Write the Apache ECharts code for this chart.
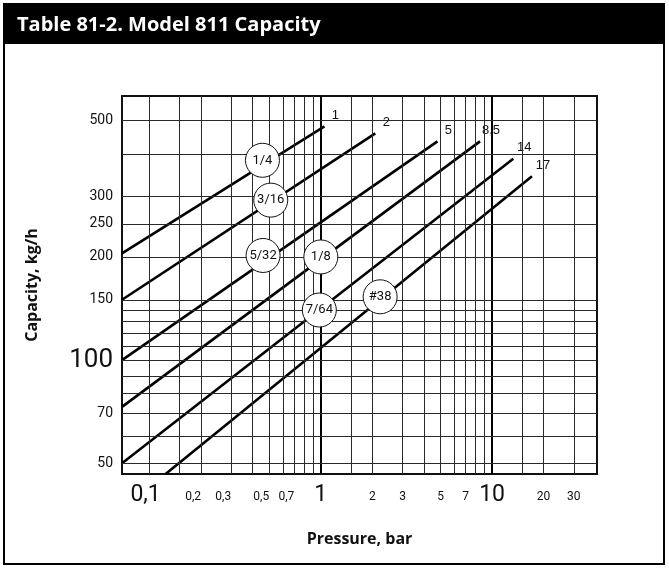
<!DOCTYPE html>
<html>
<head>
<meta charset="utf-8">
<title>Model 811 Capacity</title>
<script src="https://cdn.jsdelivr.net/npm/echarts@6/dist/echarts.min.js"></script>
<style>
  html, body { margin: 0; padding: 0; background: #fff; }
  #chart { width: 669px; height: 568px; }
</style>
</head>
<body>
<div id="chart"></div>
<script>
// grid lines of the log-log sheet
const pressureGrid = [0.1, 0.15, 0.2, 0.3, 0.4, 0.5, 0.6, 0.7, 0.8, 0.9, 1, 1.5, 2, 3, 4, 5, 6, 7, 8, 9, 10, 15, 20, 30];
const capacityGrid = [50, 60, 70, 80, 90, 100, 110, 120, 130, 140, 150, 200, 250, 300, 400, 500];

// tick labels
const pressureLabelValues = [0.1, 0.2, 0.3, 0.5, 0.7, 1, 2, 3, 5, 7, 10, 20, 30];
const pressureLabelText = ['0,1', '0,2', '0,3', '0,5', '0,7', '1', '2', '3', '5', '7', '10', '20', '30'];
const capacityLabelValues = [50, 70, 100, 150, 200, 250, 300, 500];
const capacityLabelText = ['50', '70', '100', '150', '200', '250', '300', '500'];
const bigLabels = ['0,1', '1', '10', '100'];

// orifice lines (pressure bar, capacity kg/h)
const orifices = ['1/4', '3/16', '5/32', '1/8', '7/64', '#38'];
const maxPressure = ['1', '2', '5', '8,5', '14', '17'];
const startPressure = [0.069, 0.069, 0.069, 0.069, 0.069, 0.124];
const startCapacity = [205, 150, 100, 73, 50, 46.5];
const endPressure = [1.05, 2.08, 4.8, 8.5, 13.3, 17.1];
const endCapacity = [481, 459, 435, 435, 387, 344];
const badgePressure = [0.456, 0.51, 0.46, 1.0, 0.98, 2.22];
const badgeCapacity = [383, 293, 202, 200, 140, 153];

const narrowFamily = 'Roboto, "Liberation Sans", sans-serif';
const boldFamily = '"Open Sans", sans-serif';

const chart = echarts.init(document.getElementById('chart'), null, { renderer: 'canvas' });

function gridLine(axis, value, labelText) {
  const heavy = (axis === 'xAxis' && (value === 1 || value === 10));
  const item = {
    lineStyle: { color: heavy ? '#000' : '#2a2a2a', width: heavy ? 2 : 1, type: 'solid' }
  };
  item[axis] = value;
  if (labelText) {
    const big = bigLabels.indexOf(labelText) >= 0;
    let dx = 0;
    if (axis === 'xAxis' && value < 1) dx = big ? -4 : -8;
    item.label = {
      show: true,
      position: 'start',
      formatter: labelText,
      fontFamily: narrowFamily,
      fontSize: big ? (axis === 'yAxis' ? 26 : 23) : (axis === 'yAxis' ? 14 : 12),
      color: '#111',
      offset: [dx, 0],
      distance: axis === 'yAxis' ? 9 : (big ? 10 : 17)
    };
  }
  return item;
}

const xGridData = pressureGrid.map(v => {
  const i = pressureLabelValues.indexOf(v);
  return gridLine('xAxis', v, i >= 0 ? pressureLabelText[i] : null);
});
const yGridData = capacityGrid.map(v => {
  const i = capacityLabelValues.indexOf(v);
  return gridLine('yAxis', v, i >= 0 ? capacityLabelText[i] : null);
});

const orificeSeries = orifices.map((name, i) => ({
  name: maxPressure[i],
  type: 'line',
  data: [[startPressure[i], startCapacity[i]], [endPressure[i], endCapacity[i]]],
  symbol: 'none',
  z: 3,
  lineStyle: { color: '#000', width: 2.6 },
  endLabel: {
    show: true,
    formatter: '{a}',
    distance: 0,
    align: 'center',
    verticalAlign: 'middle',
    offset: [11, -11],
    backgroundColor: '#fff',
    padding: [2, 3],
    fontFamily: '"Liberation Sans", Arial, sans-serif',
    fontSize: 13,
    color: '#111'
  }
}));

const option = {
  animation: false,
  backgroundColor: '#fff',
  grid: {
    left: 122, top: 96, right: 72, bottom: 94,
    show: true, borderColor: '#111', borderWidth: 2, backgroundColor: 'transparent'
  },
  xAxis: {
    type: 'log', logBase: 10, min: 0.069, max: 41,
    axisLine: { show: false }, axisTick: { show: false },
    axisLabel: { show: false }, splitLine: { show: false },
    name: 'Pressure, bar', nameLocation: 'middle', nameGap: 57,
    nameTextStyle: { fontFamily: boldFamily, fontWeight: 'bold', fontSize: 16, color: '#111' }
  },
  yAxis: {
    type: 'log', logBase: 10, min: 46.5, max: 590,
    axisLine: { show: false }, axisTick: { show: false },
    axisLabel: { show: false }, splitLine: { show: false },
    name: 'Capacity, kg/h', nameLocation: 'middle', nameGap: 82, nameRotate: 90,
    nameTextStyle: { fontFamily: boldFamily, fontWeight: 'bold', fontSize: 16, color: '#111' }
  },
  graphic: [
    { type: 'rect', shape: { x: 4, y: 4, width: 660, height: 560 },
      style: { fill: 'none', stroke: '#000', lineWidth: 2 }, z: 100 },
    { type: 'rect', shape: { x: 4, y: 4, width: 660, height: 40 },
      style: { fill: '#000' }, z: 100 },
    { type: 'text', left: 17, top: 15, z: 101,
      style: { text: 'Table 81-2. Model 811 Capacity', fill: '#fff',
        font: 'bold 20px "Open Sans", sans-serif' } }
  ],
  series: [
    {
      type: 'line', data: [], z: 1, silent: true,
      markLine: { symbol: ['none', 'none'], silent: true, animation: false,
        label: { show: false }, data: xGridData }
    },
    {
      type: 'line', data: [], z: 1, silent: true,
      markLine: { symbol: ['none', 'none'], silent: true, animation: false,
        label: { show: false }, data: yGridData }
    }
  ].concat(orificeSeries).concat([
    {
      type: 'scatter',
      z: 5,
      symbol: 'circle',
      symbolSize: 34,
      data: orifices.map((name, i) => ({ name: name, value: [badgePressure[i], badgeCapacity[i]] })),
      itemStyle: { color: '#fff', borderColor: '#111', borderWidth: 1, opacity: 1 },
      label: { show: true, position: 'inside', formatter: '{b}',
        fontFamily: narrowFamily, fontSize: 13, color: '#111' }
    }
  ])
};

chart.setOption(option);
</script>
</body>
</html>
